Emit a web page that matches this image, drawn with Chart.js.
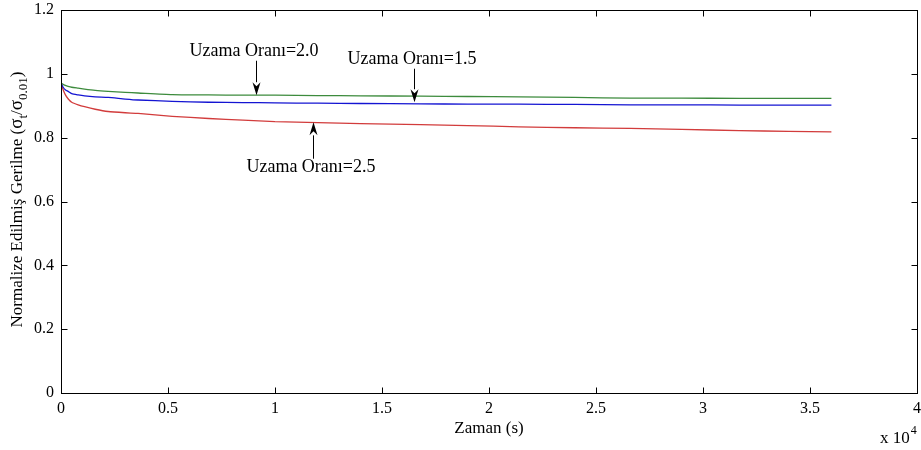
<!DOCTYPE html>
<html>
<head>
<meta charset="utf-8">
<script src="https://cdn.jsdelivr.net/npm/chart.js@4.4.1/dist/chart.umd.min.js"></script>
<style>
html,body{margin:0;padding:0;background:#fff;}
#wrap{width:921px;height:450px;position:relative;}
</style>
</head>
<body>
<div id="wrap"><canvas id="c" width="921" height="450"></canvas></div>
<script>
// Time (s)
const timeSec = [0, 100, 200, 330, 500, 800, 1100, 1600, 2200, 3000, 3600, 5200, 6900, 8500, 10000, 12000, 14000, 16800, 19000, 21400, 24000, 26600, 29000, 31700, 34000, 36000];
// Normalized stress for each elongation ratio
const ratio15 = [0.970, 0.958, 0.950, 0.945, 0.938, 0.934, 0.931, 0.928, 0.926, 0.921, 0.918, 0.914, 0.911, 0.910, 0.909, 0.908, 0.907, 0.906, 0.905, 0.905, 0.904, 0.903, 0.903, 0.902, 0.902, 0.902];
const ratio20 = [0.972, 0.967, 0.964, 0.961, 0.958, 0.955, 0.952, 0.948, 0.945, 0.942, 0.940, 0.935, 0.934, 0.933, 0.933, 0.932, 0.931, 0.930, 0.929, 0.928, 0.926, 0.924, 0.924, 0.923, 0.923, 0.923];
const ratio25 = [0.970, 0.950, 0.935, 0.922, 0.911, 0.903, 0.897, 0.889, 0.882, 0.878, 0.876, 0.867, 0.860, 0.855, 0.850, 0.847, 0.844, 0.841, 0.838, 0.834, 0.831, 0.829, 0.826, 0.822, 0.820, 0.818];
const seriesNames = ["Uzama Oranı=1.5", "Uzama Oranı=2.0", "Uzama Oranı=2.5"];
const xTickValues = [0, 5000, 10000, 15000, 20000, 25000, 30000, 35000, 40000];
const yTickValues = [0, 0.2, 0.4, 0.6, 0.8, 1.0, 1.2];

// annotations: [text, textX(s), textY, arrowX(s), arrowFromY, arrowToY]
const notes = [
  ["Uzama Oranı=2.0", 9020, 1.070, 9110, 1.041, 0.933],
  ["Uzama Oranı=1.5", 16400, 1.047, 16500, 1.016, 0.911],
  ["Uzama Oranı=2.5", 11680, 0.706, 11760, 0.734, 0.848]
];

const toPts = arr => arr.map((v, i) => ({x: timeSec[i], y: v}));
const FONT = '"Liberation Serif", "Times New Roman", serif';

const decorPlugin = {
  id: 'decor',
  afterDraw(chart) {
    const ctx = chart.ctx;
    const a = chart.chartArea;
    const xs = chart.scales.x, ys = chart.scales.y;
    ctx.save();
    // frame
    ctx.strokeStyle = '#000';
    ctx.lineWidth = 1;
    const L = Math.round(a.left) + 0.5, R = Math.round(a.right) + 0.5, T = Math.round(a.top) + 0.5, B = Math.round(a.bottom) + 0.5;
    ctx.strokeRect(L, T, R - L, B - T);
    // inward ticks
    const tl = 6;
    ctx.beginPath();
    xTickValues.forEach(v => {
      const px = Math.round(xs.getPixelForValue(v)) + 0.5;
      ctx.moveTo(px, B); ctx.lineTo(px, B - tl);
      ctx.moveTo(px, T); ctx.lineTo(px, T + tl);
    });
    yTickValues.forEach(v => {
      const py = Math.round(ys.getPixelForValue(v)) + 0.5;
      ctx.moveTo(L, py); ctx.lineTo(L + tl, py);
      ctx.moveTo(R, py); ctx.lineTo(R - tl, py);
    });
    ctx.stroke();

    // x title
    ctx.fillStyle = '#000';
    ctx.font = '17px ' + FONT;
    ctx.textAlign = 'center';
    ctx.textBaseline = 'middle';
    ctx.fillText('Zaman (s)', (a.left + a.right) / 2, 429);

    // x 10^4
    ctx.textAlign = 'left';
    ctx.textBaseline = 'alphabetic';
    ctx.font = '17px ' + FONT;
    ctx.fillText('x 10', 880, 443);
    const w = ctx.measureText('x 10').width;
    ctx.font = '12px ' + FONT;
    ctx.fillText('4', 880 + w + 1, 434);

    // y title with subscripts
    const segs = [
      ['Normalize Edilmiş Gerilme (', 0],
      ['σ', 2], ['t', 1], ['/', 0], ['σ', 2], ['0.01', 1], [')', 0]
    ];
    const fonts = ['17px ' + FONT, '13px ' + FONT, '19px ' + FONT];
    let total = 0;
    segs.forEach(s => { ctx.font = fonts[s[1]]; total += ctx.measureText(s[0]).width; });
    ctx.translate(22, (a.top + a.bottom) / 2 - 2);
    ctx.rotate(-Math.PI / 2);
    let cx = -total / 2;
    segs.forEach(s => {
      ctx.font = fonts[s[1]];
      ctx.fillText(s[0], cx, s[1] === 1 ? 5 : 0);
      cx += ctx.measureText(s[0]).width;
    });
    ctx.setTransform(1, 0, 0, 1, 0, 0);

    // annotations
    ctx.font = '18px ' + FONT;
    ctx.textAlign = 'center';
    ctx.textBaseline = 'middle';
    ctx.fillStyle = '#000';
    notes.forEach(n => {
      ctx.fillText(n[0], xs.getPixelForValue(n[1]), ys.getPixelForValue(n[2]));
      const ax = Math.round(xs.getPixelForValue(n[3])) + 0.5;
      const y0 = ys.getPixelForValue(n[4]), y1 = ys.getPixelForValue(n[5]);
      const dir = Math.sign(y1 - y0);
      const hl = 13, hw = 4;
      ctx.beginPath();
      ctx.moveTo(ax, y0); ctx.lineTo(ax, y1 - dir * hl);
      ctx.stroke();
      ctx.beginPath();
      ctx.moveTo(ax, y1);
      ctx.lineTo(ax - hw, y1 - dir * hl);
      ctx.lineTo(ax, y1 - dir * (hl - 4));
      ctx.lineTo(ax + hw, y1 - dir * hl);
      ctx.closePath();
      ctx.fill();
    });
    ctx.restore();
  }
};

new Chart(document.getElementById('c'), {
  type: 'line',
  data: {
    datasets: [
      {label: seriesNames[0], data: toPts(ratio15), borderColor: '#1414d2', borderWidth: 1.3, pointRadius: 0, tension: 0.2, fill: false},
      {label: seriesNames[1], data: toPts(ratio20), borderColor: '#3d8b3d', borderWidth: 1.3, pointRadius: 0, tension: 0.2, fill: false},
      {label: seriesNames[2], data: toPts(ratio25), borderColor: '#d23c3c', borderWidth: 1.3, pointRadius: 0, tension: 0.2, fill: false}
    ]
  },
  options: {
    responsive: false,
    animation: false,
    layout: {padding: {top: 10, right: 4, left: 0, bottom: 0}},
    plugins: {legend: {display: false}, tooltip: {enabled: false}},
    scales: {
      x: {
        type: 'linear', min: 0, max: 40000,
        afterBuildTicks: s => { s.ticks = xTickValues.map(v => ({value: v})); },
        afterFit: s => { s.height = 57; s.paddingLeft = 0; s.paddingRight = 0; },
        grid: {display: false, drawTicks: false},
        border: {display: false},
        ticks: {
          padding: 6, color: '#000', autoSkip: false, maxRotation: 0,
          font: {family: FONT, size: 16},
          callback: v => String(parseFloat((v / 10000).toFixed(1)))
        }
      },
      y: {
        min: 0, max: 1.2,
        afterBuildTicks: s => { s.ticks = yTickValues.map(v => ({value: v})); },
        afterFit: s => { s.width = 61; s.paddingTop = 0; s.paddingBottom = 0; },
        grid: {display: false, drawTicks: false},
        border: {display: false},
        ticks: {
          padding: 7, color: '#000', autoSkip: false,
          font: {family: FONT, size: 16},
          callback: v => String(parseFloat(v.toFixed(1)))
        }
      }
    }
  },
  plugins: [decorPlugin]
});
</script>
</body>
</html>
